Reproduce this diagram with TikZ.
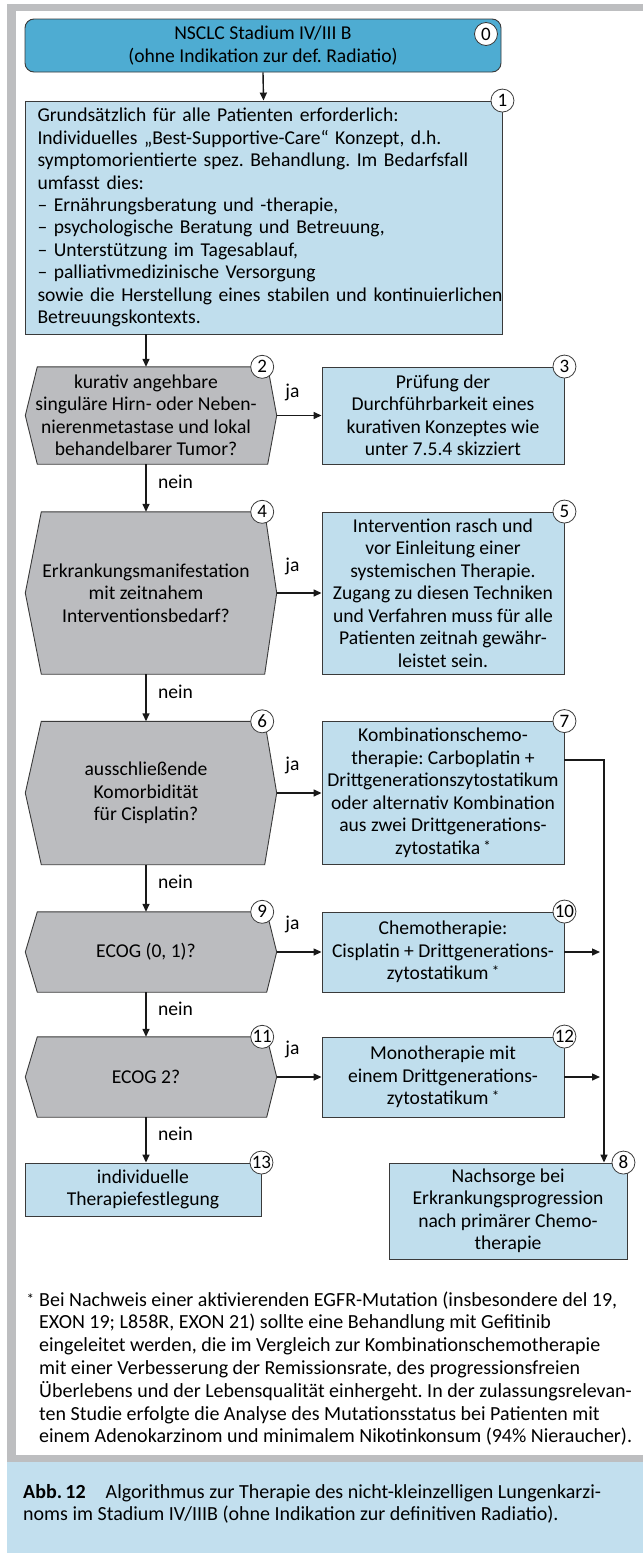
\documentclass[tikz,border=0pt]{standalone}
\usepackage{fontspec}
\setmainfont{Carlito}
\usetikzlibrary{arrows.meta,backgrounds,calc}
\definecolor{framegray}{HTML}{BDBEC0}
\definecolor{darkblue}{HTML}{4EACD2}
\definecolor{lightblue}{HTML}{C0DEED}
\definecolor{hexgray}{HTML}{BBBCBF}
\definecolor{capblue}{HTML}{C2DFEE}
\definecolor{bordc}{HTML}{3A3A3A}
\newcommand\hexa[3]{%
  \begin{scope}[on background layer]
  \path[hexshape] ([xshift=#2]#1.north west) -- ([xshift=10pt-#3]#1.north east) -- ([xshift=10pt]#1.east) -- ([xshift=10pt-#3]#1.south east) -- ([xshift=#2]#1.south west) -- (#1.west) -- cycle;
  \end{scope}}
\newcommand\fnast{\,\raisebox{3pt}{\fontsize{15}{15}\selectfont *}}
\frenchspacing
\begin{document}
\begin{tikzpicture}[x=1pt,y=-1pt,
  txt/.style={font=\fontsize{19.6}{22.5}\selectfont, align=center, inner sep=0pt},
  lbox/.style={txt, draw=bordc, line width=0.9pt, fill=lightblue},
  hexnode/.style={txt, minimum width=241pt},
  hexshape/.style={draw=bordc, line width=0.9pt, fill=hexgray},
  num/.style={circle, draw=bordc, fill=white, line width=0.8pt, minimum size=23pt, inner sep=0pt, font=\fontsize{19}{19}\selectfont},
  arr/.style={draw=black!90, line width=1.4pt, -{Triangle[length=8pt,width=7pt]}},
  lab/.style={font=\fontsize{19.6}{22.5}\selectfont, inner sep=0pt}
]
\useasboundingbox (0,0) rectangle (643,1553);
% frame and caption background
\fill[framegray] (7,4) rectangle (643,11);
\fill[framegray] (7,4) rectangle (16,1462);
\fill[framegray] (7,1455) rectangle (643,1462);
\fill[capblue] (7,1462) rectangle (643,1553);

% nodes
\node[lbox, fill=darkblue, rounded corners=9pt, minimum width=476pt, minimum height=53pt] (n0) at (263,45.5)
  {NSCLC Stadium IV/III B\\(ohne Indikation zur def. Radiatio)};
\node[lbox, minimum width=477pt, minimum height=233pt, text width=452pt, inner xsep=12.5pt, align=left,
  font=\fontsize{19.6}{22.4}\selectfont] (b1) at (263.5,217.5)
  {Grundsätzlich für alle Patienten erforderlich:\\
   Individuelles „Best-Supportive-Care“ Konzept, d.h.\\
   \mbox{symptomorientierte spez. Behandlung. Im Bedarfsfall}\\
   umfasst dies:\\
   – Ernährungsberatung und -therapie,\\
   – psychologische Beratung und Betreuung,\\
   – Unterstützung im Tagesablauf,\\
   – palliativmedizinische Versorgung\\
   \mbox{sowie die Herstellung eines stabilen und kontinuierlichen}\\
   Betreuungskontexts.};

\node[hexnode, minimum height=97pt] (h2) at (146,415.5)
  {kurativ angehbare\\singuläre Hirn- oder Neben-\\nierenmetastase und lokal\\behandelbarer Tumor?};
\hexa{h2}{12pt}{9pt}
\node[lbox, minimum width=242pt, minimum height=97pt] (b3) at (443,415.5)
  {Prüfung der\\Durchführbarkeit eines\\kurativen Konzeptes wie\\unter 7.5.4 skizziert};

\node[hexnode, minimum height=162pt] (h4) at (146,593)
  {Erkrankungsmanifestation\\mit zeitnahem\\Interventionsbedarf?};
\hexa{h4}{16pt}{12pt}
\node[lbox, minimum width=242pt, minimum height=162pt] (b5) at (443,593)
  {Intervention rasch und\\vor Einleitung einer\\systemischen Therapie.\\Zugang zu diesen Techniken\\und Verfahren muss für alle\\Patienten zeitnah gewähr-\\leistet sein.};

\node[hexnode, minimum height=143pt] (h6) at (146,793)
  {ausschließende\\Komorbidität\\für Cisplatin?};
\hexa{h6}{16pt}{12pt}
\node[lbox, minimum width=242pt, minimum height=143pt] (b7) at (443,793)
  {Kombinationschemo-\\therapie: Carboplatin +\\Drittgenerationszytostatikum\\oder alternativ Kombination\\aus zwei Drittgenerations-\\zytostatika\fnast};

\node[hexnode, minimum height=80pt] (h9) at (146,952) {ECOG (0, 1)?};
\hexa{h9}{12pt}{10pt}
\node[lbox, minimum width=242pt, minimum height=80pt] (b10) at (443,952)
  {Chemotherapie:\\Cisplatin + Drittgenerations-\\zytostatikum\fnast};

\node[hexnode, minimum height=80pt] (h11) at (146,1077) {ECOG 2?};
\hexa{h11}{12pt}{10pt}
\node[lbox, minimum width=242pt, minimum height=80pt] (b12) at (443,1077)
  {Monotherapie mit\\einem Drittgenerations-\\zytostatikum\fnast};

\node[lbox, minimum width=236pt, minimum height=53pt] (b13) at (143,1189.5)
  {individuelle\\Therapiefestlegung};
\node[lbox, minimum width=238pt, minimum height=96pt] (b8) at (508,1211)
  {Nachsorge bei\\Erkrankungsprogression\\nach primärer Chemo-\\therapie};

% connectors
\draw[arr] (n0.south) -- (b1.north);
\draw[arr] (b1.south -| h2.north) -- (h2.north);
\draw[arr] (h2.south) -- (h4.north) node[lab, midway, xshift=29.5pt, yshift=6pt] {nein};
\draw[arr] (h4.south) -- (h6.north) node[lab, midway, xshift=29.5pt, yshift=6pt] {nein};
\draw[arr] (h6.south) -- (h9.north) node[lab, midway, xshift=29.5pt, yshift=6pt] {nein};
\draw[arr] (h9.south) -- (h11.north) node[lab, midway, xshift=29.5pt, yshift=6pt] {nein};
\draw[arr] (h11.south) -- (b13.north -| h11.south) node[lab, midway, xshift=29.5pt, yshift=6pt] {nein};

\draw[arr] ([xshift=10pt]h2.east) -- (b3.west) node[lab, pos=0.35, yshift=23pt] {ja};
\draw[arr] ([xshift=10pt]h4.east) -- (b5.west) node[lab, pos=0.35, yshift=27pt] {ja};
\draw[arr] ([xshift=10pt]h6.east) -- (b7.west) node[lab, pos=0.35, yshift=28pt] {ja};
\draw[arr] ([xshift=10pt]h9.east) -- (b10.west) node[lab, pos=0.35, yshift=28pt] {ja};
\draw[arr] ([xshift=10pt]h11.east) -- (b12.west) node[lab, pos=0.35, yshift=28pt] {ja};

\coordinate (rx) at (604,760);
\draw[arr] ([yshift=33pt]b7.east) -- (rx) -- (rx |- b8.north);
\draw[arr, shorten >=4pt] (b10.east) -- (b10.east -| rx);
\draw[arr, shorten >=4pt] (b12.east) -- (b12.east -| rx);

% number circles
\node[num] (c0) at (486,34) {0};
\node[num] (c1) at (b1.north east) {1};
\node[num] (c2) at ([xshift=-4.5pt]h2.north east) {2};
\node[num] (c3) at (b3.north east) {3};
\node[num] (c4) at ([xshift=-4.5pt]h4.north east) {4};
\node[num] (c5) at (b5.north east) {5};
\node[num] (c6) at ([xshift=-4.5pt]h6.north east) {6};
\node[num] (c7) at (b7.north east) {7};
\node[num] (c9) at ([xshift=-4.5pt]h9.north east) {9};
\node[num] (c10) at (b10.north east) {10};
\node[num] (c11) at ([xshift=-4.5pt]h11.north east) {11};
\node[num] (c12) at (b12.north east) {12};
\node[num] (c13) at (b13.north east) {13};
\node[num] (c8) at ([xshift=-4pt]b8.north east) {8};

% footnote
\node[txt, align=left, anchor=west, font=\fontsize{20}{22.8}\selectfont] (fn) at (39,1368.5)
  {\llap{\raisebox{2pt}{\fontsize{15}{15}\selectfont *}\hspace{5pt}}Bei Nachweis einer aktivierenden EGFR-Mutation (insbesondere del 19,\\
   EXON 19; L858R, EXON 21) sollte eine Behandlung mit Gefitinib\\
   eingeleitet werden, die im Vergleich zur Kombinationschemotherapie\\
   mit einer Verbesserung der Remissionsrate, des progressionsfreien\\
   Überlebens und der Lebensqualität einhergeht. In der zulassungsrelevan-\\
   ten Studie erfolgte die Analyse des Mutationsstatus bei Patienten mit\\
   einem Adenokarzinom und minimalem Nikotinkonsum (94\% Nieraucher).};

% caption
\node[txt, align=left, anchor=west, font=\fontsize{20}{22.5}\selectfont] (cap) at (23,1504)
  {\textbf{Abb.\,12}\hspace{20pt}Algorithmus zur Therapie des nicht-kleinzelligen Lungenkarzi-\\
   noms im Stadium IV/IIIB (ohne Indikation zur definitiven Radiatio).};
\end{tikzpicture}
\end{document}
